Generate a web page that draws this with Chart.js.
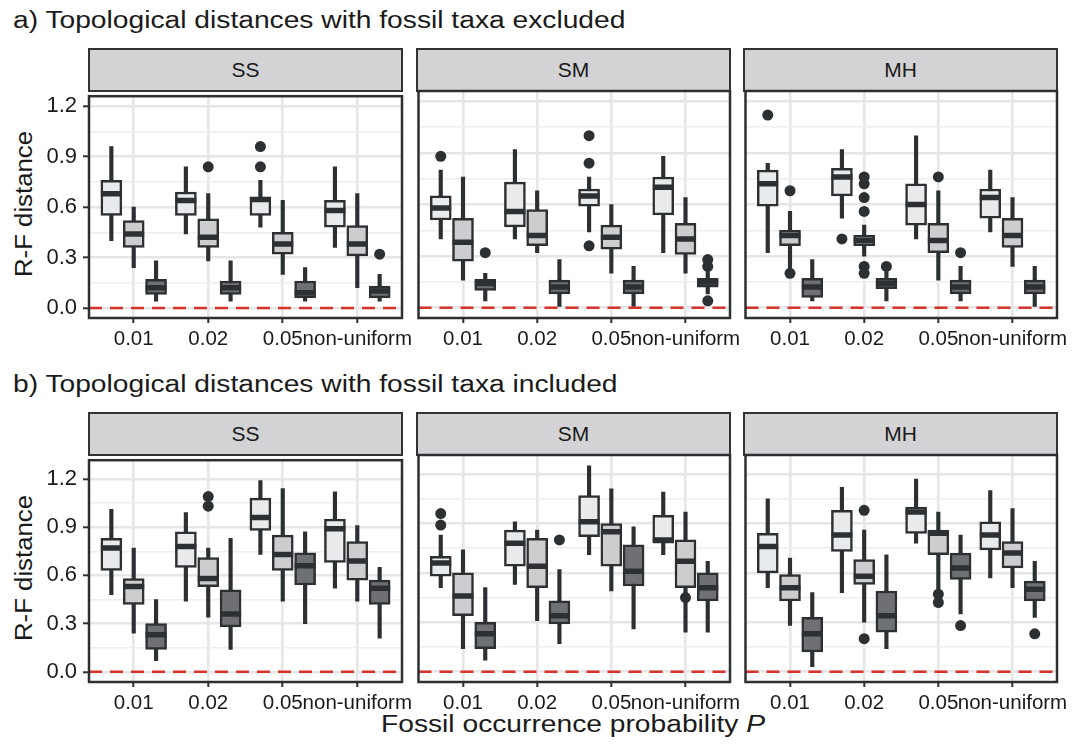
<!DOCTYPE html>
<html lang="en">
<head>
<meta charset="UTF-8">
<title>R-F distances</title>
<script src="https://cdn.jsdelivr.net/npm/chart.js"></script>
<style>
  body { margin: 0; background: #fff; font-family: "Liberation Sans", Arial, sans-serif; color: #1a1a1a; }
  #page { position: relative; width: 1080px; height: 755px; overflow: hidden; }
  .title { position: absolute; left: 13px; font-size: 23.5px; line-height: 26px; white-space: nowrap; transform: scaleX(1.2); transform-origin: 0 0; }
  .strip { position: absolute; box-sizing: border-box; background: #d3d3d5; border: 2.5px solid #333; font-size: 21px; line-height: 39px; text-align: center; }
  .ylab { position: absolute; font-size: 23px; line-height: 23px; white-space: nowrap; transform: translate(-50%, -50%) rotate(-90deg) scaleX(1.12); }
  .xlab { position: absolute; left: 89px; width: 968px; top: 711px; font-size: 23.5px; line-height: 26px; text-align: center; transform: scaleX(1.2); transform-origin: 484px 0; }
  canvas { position: absolute; }
</style>
</head>
<body>
<div id="page">
  <div class="title" style="top:7px">a) Topological distances with fossil taxa excluded</div>
  <div class="title" style="top:371px">b) Topological distances with fossil taxa included</div>
  <div class="ylab" style="left:24px; top:204px">R-F distance</div>
  <div class="ylab" style="left:24px; top:568px">R-F distance</div>
  <div class="xlab">Fossil occurrence probability <i>P</i></div>
</div>

<script>
const categories = ['0.01', '0.02', '0.05', 'non-uniform'];
const facets = ['SS', 'SM', 'MH'];
const yTicks = [0, 0.3, 0.6, 0.9, 1.2];

// one entry per category: [lower whisker, Q1, median, Q3, upper whisker]
// outliers: [category index, series index, value]

// a) fossil taxa excluded
const ex_SS_1 = [[0.40, 0.55, 0.68, 0.76, 0.96], [0.44, 0.55, 0.64, 0.69, 0.84], [0.48, 0.55, 0.645, 0.66, 0.76], [0.36, 0.48, 0.58, 0.64, 0.84]];
const ex_SS_2 = [[0.24, 0.36, 0.44, 0.52, 0.60], [0.28, 0.36, 0.42, 0.53, 0.68], [0.20, 0.32, 0.38, 0.45, 0.64], [0.12, 0.31, 0.38, 0.49, 0.68]];
const ex_SS_3 = [[0.04, 0.08, 0.12, 0.17, 0.28], [0.04, 0.08, 0.12, 0.16, 0.28], [0.04, 0.06, 0.09, 0.16, 0.24], [0.04, 0.06, 0.10, 0.13, 0.20]];
const ex_SS_out = [[1, 1, 0.84], [2, 0, 0.96], [2, 0, 0.84], [3, 2, 0.32]];

const ex_SM_1 = [[0.40, 0.51, 0.58, 0.65, 0.80], [0.40, 0.47, 0.56, 0.73, 0.92], [0.44, 0.59, 0.65, 0.69, 0.76], [0.32, 0.54, 0.70, 0.76, 0.88]];
const ex_SM_2 = [[0.16, 0.27, 0.38, 0.52, 0.76], [0.32, 0.36, 0.42, 0.57, 0.68], [0.20, 0.34, 0.41, 0.48, 0.60], [0.20, 0.31, 0.40, 0.49, 0.64]];
const ex_SM_3 = [[0.04, 0.10, 0.14, 0.165, 0.20], [0.00, 0.08, 0.12, 0.16, 0.28], [0.00, 0.08, 0.12, 0.16, 0.24], [0.08, 0.12, 0.15, 0.17, 0.22]];
const ex_SM_out = [[0, 0, 0.88], [0, 2, 0.32], [2, 0, 1.00], [2, 0, 0.84], [2, 0, 0.36], [3, 2, 0.28], [3, 2, 0.24], [3, 2, 0.04]];

const ex_MH_1 = [[0.32, 0.59, 0.72, 0.80, 0.84], [0.52, 0.65, 0.76, 0.81, 0.92], [0.40, 0.48, 0.60, 0.72, 1.00], [0.44, 0.52, 0.64, 0.69, 0.80]];
const ex_MH_2 = [[0.23, 0.36, 0.42, 0.45, 0.56], [0.30, 0.36, 0.39, 0.42, 0.48], [0.16, 0.32, 0.39, 0.49, 0.68], [0.24, 0.35, 0.42, 0.52, 0.64]];
const ex_MH_3 = [[0.04, 0.06, 0.12, 0.17, 0.28], [0.04, 0.11, 0.14, 0.17, 0.21], [0.04, 0.08, 0.12, 0.16, 0.24], [0.00, 0.08, 0.12, 0.16, 0.24]];
const ex_MH_out = [[0, 0, 1.12], [0, 1, 0.68], [0, 1, 0.20], [1, 0, 0.40], [1, 1, 0.76], [1, 1, 0.72], [1, 1, 0.64], [1, 1, 0.56],
                   [1, 1, 0.24], [1, 1, 0.20], [1, 2, 0.24], [2, 1, 0.76], [2, 2, 0.32]];

// b) fossil taxa included
const in_SS_1 = [[0.48, 0.63, 0.77, 0.83, 1.01], [0.44, 0.65, 0.78, 0.87, 0.99], [0.73, 0.88, 0.96, 1.08, 1.19], [0.52, 0.68, 0.89, 0.95, 1.12]];
const in_SS_2 = [[0.24, 0.42, 0.53, 0.58, 0.77], [0.34, 0.53, 0.58, 0.71, 0.77], [0.44, 0.63, 0.73, 0.85, 1.14], [0.44, 0.57, 0.69, 0.81, 0.91]];
const in_SS_3 = [[0.07, 0.14, 0.23, 0.30, 0.45], [0.14, 0.28, 0.36, 0.51, 0.83], [0.30, 0.54, 0.66, 0.74, 0.87], [0.21, 0.42, 0.52, 0.57, 0.65]];
const in_SS_out = [[1, 1, 1.09], [1, 1, 1.03]];

const in_SM_1 = [[0.51, 0.58, 0.66, 0.70, 0.83], [0.53, 0.64, 0.78, 0.86, 0.91], [0.71, 0.82, 0.91, 1.07, 1.25], [0.71, 0.78, 0.80, 0.95, 1.09]];
const in_SM_2 = [[0.14, 0.34, 0.46, 0.60, 0.74], [0.31, 0.51, 0.64, 0.81, 0.86], [0.49, 0.64, 0.85, 0.90, 1.11], [0.24, 0.51, 0.67, 0.80, 0.97]];
const in_SM_3 = [[0.07, 0.14, 0.23, 0.30, 0.51], [0.17, 0.29, 0.34, 0.43, 0.62], [0.26, 0.52, 0.61, 0.77, 0.88], [0.24, 0.43, 0.51, 0.60, 0.67]];
const in_SM_out = [[0, 0, 0.96], [0, 0, 0.89], [1, 2, 0.80], [3, 1, 0.45]];

const in_MH_1 = [[0.51, 0.60, 0.76, 0.84, 1.05], [0.48, 0.73, 0.83, 0.98, 1.12], [0.78, 0.84, 0.97, 1.00, 1.17], [0.57, 0.74, 0.83, 0.91, 1.10]];
const in_MH_2 = [[0.28, 0.43, 0.51, 0.59, 0.69], [0.30, 0.53, 0.58, 0.68, 0.86], [0.50, 0.71, 0.84, 0.86, 0.97], [0.51, 0.63, 0.72, 0.79, 0.99]];
const in_MH_3 = [[0.03, 0.12, 0.23, 0.33, 0.48], [0.14, 0.24, 0.34, 0.49, 0.71], [0.35, 0.56, 0.63, 0.72, 0.83], [0.33, 0.43, 0.50, 0.55, 0.67]];
const in_MH_out = [[1, 1, 0.98], [1, 1, 0.20], [2, 1, 0.47], [2, 1, 0.42], [2, 2, 0.28], [3, 2, 0.23]];

const panels = [
  { row: 0, col: 0, series: [ex_SS_1, ex_SS_2, ex_SS_3], out: ex_SS_out },
  { row: 0, col: 1, series: [ex_SM_1, ex_SM_2, ex_SM_3], out: ex_SM_out },
  { row: 0, col: 2, series: [ex_MH_1, ex_MH_2, ex_MH_3], out: ex_MH_out },
  { row: 1, col: 0, series: [in_SS_1, in_SS_2, in_SS_3], out: in_SS_out },
  { row: 1, col: 1, series: [in_SM_1, in_SM_2, in_SM_3], out: in_SM_out },
  { row: 1, col: 2, series: [in_MH_1, in_MH_2, in_MH_3], out: in_MH_out }
];

// look & layout
const ink = '#2d3033';
const fills = ['#e9eaec', '#cdcdcf', '#6f7073'];
const red = '#d7332a';
const gridMajor = '#e6e6e6';
const gridMinor = '#eeeeee';
const font = { family: '"Liberation Sans", Arial, sans-serif', size: 20.5 };

const colLeft = [89, 417, 744];
const panelW = 313;
const rowTop = [91, 455];
const panelH = 227;
const yRange = [[-0.06, 1.26], [-0.063, 1.316]];
const xMin = 0.4, xMax = 4.6;
const dodge = [-0.3, 0, 0.3];
const medHalf = 0.141;
const padTop = 14, padRight = 22, axisH = 44, yAxisW = 56;

// major grid + a minor line half way between
const yGrid = [];
yTicks.forEach((t, i) => {
  yGrid.push(t);
  if (i < yTicks.length - 1) yGrid.push((t + yTicks[i + 1]) / 2);
});
const isMajor = v => yTicks.some(t => Math.abs(t - v) < 1e-9);

const framePlugin = {
  id: 'panelFrame',
  afterDraw(chart) {
    const a = chart.chartArea;
    const ctx = chart.ctx;
    ctx.save();
    ctx.strokeStyle = ink;
    ctx.lineWidth = 2.5;
    ctx.strokeRect(a.left, a.top, a.right - a.left, a.bottom - a.top);
    ctx.restore();
  }
};

function boxDatasets(series, outliers) {
  const sets = [];
  series.forEach((s, k) => {
    const xs = s.map((d, i) => i + 1 + dodge[k]);
    sets.push({
      type: 'bar', order: 4, grouped: false, barThickness: 3.5,
      backgroundColor: ink, borderWidth: 0,
      data: s.map((d, i) => ({ x: xs[i], y: [d[0], d[4]] }))
    });
    sets.push({
      type: 'bar', order: 3, grouped: false, barThickness: 21,
      backgroundColor: fills[k], borderColor: ink, borderWidth: 2.5, borderSkipped: false,
      data: s.map((d, i) => ({ x: xs[i], y: [d[1], d[3]] }))
    });
    const med = [];
    s.forEach((d, i) => {
      med.push({ x: xs[i] - medHalf, y: d[2] }, { x: xs[i] + medHalf, y: d[2] }, { x: xs[i] + medHalf, y: null });
    });
    sets.push({
      type: 'line', order: 2, data: med, borderColor: ink, borderWidth: 5.5,
      pointRadius: 0, spanGaps: false, tension: 0
    });
  });
  sets.push({
    type: 'scatter', order: 1, pointRadius: 5.5, pointBorderWidth: 0,
    backgroundColor: ink, borderColor: ink,
    data: outliers.map(o => ({ x: o[0] + 1 + dodge[o[1]], y: o[2] }))
  });
  sets.push({
    type: 'line', order: 0, borderColor: red, borderWidth: 2.5, borderDash: [13, 8], pointRadius: 0,
    data: [{ x: xMin, y: 0 }, { x: xMax, y: 0 }]
  });
  return sets;
}

const page = document.getElementById('page');

panels.forEach(p => {
  const first = p.col === 0;
  const padLeft = first ? 0 : 4;
  const leftW = first ? yAxisW : padLeft;

  const strip = document.createElement('div');
  strip.className = 'strip';
  strip.textContent = facets[p.col];
  strip.style.left = (colLeft[p.col] - 1.25) + 'px';
  strip.style.width = (panelW + 2.5) + 'px';
  strip.style.top = (rowTop[p.row] - 43) + 'px';
  strip.style.height = '44px';
  page.appendChild(strip);

  const cv = document.createElement('canvas');
  cv.width = leftW + panelW + padRight;
  cv.height = padTop + panelH + axisH;
  cv.style.left = (colLeft[p.col] - leftW) + 'px';
  cv.style.top = (rowTop[p.row] - padTop) + 'px';
  page.appendChild(cv);

  new Chart(cv, {
    type: 'bar',
    data: { datasets: boxDatasets(p.series, p.out) },
    options: {
      responsive: false,
      animation: false,
      layout: { padding: { top: padTop, left: padLeft, right: padRight, bottom: 0 } },
      plugins: { legend: { display: false }, tooltip: { enabled: false } },
      scales: {
        x: {
          type: 'linear', min: xMin, max: xMax, offset: false,
          afterBuildTicks: s => { s.ticks = categories.map((c, i) => ({ value: i + 1 })); },
          afterFit: s => { s.height = axisH; },
          ticks: {
            callback: v => categories[v - 1], autoSkip: false, maxRotation: 0, minRotation: 0,
            color: '#1a1a1a', font: font, padding: 4
          },
          grid: { offset: false, color: gridMajor, lineWidth: 2.6, tickColor: ink, tickWidth: 2, tickLength: 5 },
          border: { display: false }
        },
        y: {
          type: 'linear', min: yRange[p.row][0], max: yRange[p.row][1],
          afterBuildTicks: s => { s.ticks = yGrid.map(v => ({ value: v })); },
          afterFit: s => { s.width = first ? yAxisW : 0; },
          ticks: {
            display: first, autoSkip: false, padding: 6, color: '#1a1a1a', font: { family: font.family, size: 22 },
            callback: v => isMajor(v) ? v.toFixed(1) : ''
          },
          grid: {
            color: ctx => isMajor(ctx.tick.value) ? gridMajor : gridMinor,
            lineWidth: ctx => isMajor(ctx.tick.value) ? 2.6 : 1.4,
            drawTicks: first, tickLength: 6, tickWidth: 2,
            tickColor: ctx => isMajor(ctx.tick.value) ? ink : 'rgba(0,0,0,0)'
          },
          border: { display: false }
        }
      }
    },
    plugins: [framePlugin]
  });
});
</script>
</body>
</html>
